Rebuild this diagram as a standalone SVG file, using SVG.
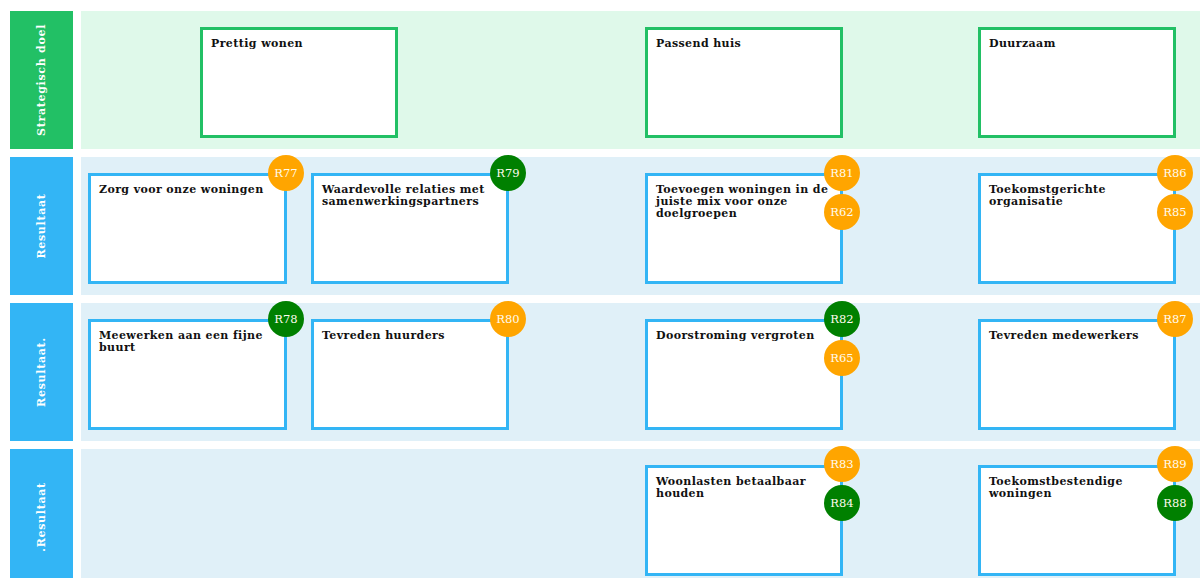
<svg xmlns="http://www.w3.org/2000/svg" width="1200" height="578" viewBox="0 0 1200 578">
<style>
.lbl-g{fill:#22c065}
.lbl-b{fill:#33b5f5}
.band-g{fill:#dff9ea}
.band-b{fill:#e0f0f8}
.lt{font-family:"DejaVu Serif",serif;font-weight:bold;font-size:11px;letter-spacing:0.7px;fill:#ffffff;text-anchor:middle;dominant-baseline:central}
.box-g{fill:#ffffff;stroke:#22c065;stroke-width:3}
.box-b{fill:#ffffff;stroke:#33b5f5;stroke-width:3}
.nt{font-family:"DejaVu Serif",serif;font-weight:bold;font-size:11px;letter-spacing:0.4px;fill:#111111}
.bo{fill:#ffa500}
.bg{fill:#008000}
.bt{font-family:"DejaVu Serif",serif;font-size:11.5px;fill:#fffbee;text-anchor:middle;dominant-baseline:central}
</style>
<rect width="1200" height="578" fill="#ffffff"/>
<g id="lanes">
<g id="lane1"><rect class="lbl-g" x="10" y="11" width="63" height="138"/><rect class="band-g" x="81" y="11" width="1119" height="138"/><text class="lt" transform="translate(41.5,80) rotate(-90)">Strategisch doel</text></g>
<g id="lane2"><rect class="lbl-b" x="10" y="157" width="63" height="138"/><rect class="band-b" x="81" y="157" width="1119" height="138"/><text class="lt" transform="translate(41.5,226) rotate(-90)">Resultaat</text></g>
<g id="lane3"><rect class="lbl-b" x="10" y="303" width="63" height="138"/><rect class="band-b" x="81" y="303" width="1119" height="138"/><text class="lt" transform="translate(41.5,372) rotate(-90)">Resultaat.</text></g>
<g id="lane4"><rect class="lbl-b" x="10" y="449" width="63" height="140"/><rect class="band-b" x="81" y="449" width="1119" height="140"/><text class="lt" transform="translate(41.5,517) rotate(-90)">.Resultaat</text></g>
</g>
<g id="connectors"></g>
<g id="n-prettig"><rect class="box-g" x="201.5" y="28.5" width="195" height="108"/><text class="nt" x="211" y="47">Prettig wonen</text></g>
<g id="n-passend"><rect class="box-g" x="646.5" y="28.5" width="195" height="108"/><text class="nt" x="656" y="47">Passend huis</text></g>
<g id="n-duurzaam"><rect class="box-g" x="979.5" y="28.5" width="195" height="108"/><text class="nt" x="989" y="47">Duurzaam</text></g>

<g id="n-zorg"><rect class="box-b" x="89.5" y="174.5" width="196" height="108"/><text class="nt" x="99" y="193">Zorg voor onze woningen</text><circle class="bo" cx="286" cy="173" r="18"/><text class="bt" x="286" y="173">R77</text></g>
<g id="n-waardevolle"><rect class="box-b" x="312.5" y="174.5" width="195" height="108"/><text class="nt" x="322" y="193">Waardevolle relaties met</text><text class="nt" x="322" y="205">samenwerkingspartners</text><circle class="bg" cx="508" cy="173" r="18"/><text class="bt" x="508" y="173">R79</text></g>
<g id="n-toevoegen"><rect class="box-b" x="646.5" y="174.5" width="195" height="108"/><text class="nt" x="656" y="193">Toevoegen woningen in de</text><text class="nt" x="656" y="205">juiste mix voor onze</text><text class="nt" x="656" y="217">doelgroepen</text><circle class="bo" cx="842" cy="173" r="18"/><text class="bt" x="842" y="173">R81</text><circle class="bo" cx="842" cy="212" r="18"/><text class="bt" x="842" y="212">R62</text></g>
<g id="n-toekomstgericht"><rect class="box-b" x="979.5" y="174.5" width="195" height="108"/><text class="nt" x="989" y="193">Toekomstgerichte</text><text class="nt" x="989" y="205">organisatie</text><circle class="bo" cx="1175" cy="173" r="18"/><text class="bt" x="1175" y="173">R86</text><circle class="bo" cx="1175" cy="212" r="18"/><text class="bt" x="1175" y="212">R85</text></g>

<g id="n-meewerken"><rect class="box-b" x="89.5" y="320.5" width="196" height="108"/><text class="nt" x="99" y="339">Meewerken aan een fijne</text><text class="nt" x="99" y="351">buurt</text><circle class="bg" cx="286" cy="319" r="18"/><text class="bt" x="286" y="319">R78</text></g>
<g id="n-huurders"><rect class="box-b" x="312.5" y="320.5" width="195" height="108"/><text class="nt" x="322" y="339">Tevreden huurders</text><circle class="bo" cx="508" cy="319" r="18"/><text class="bt" x="508" y="319">R80</text></g>
<g id="n-doorstroming"><rect class="box-b" x="646.5" y="320.5" width="195" height="108"/><text class="nt" x="656" y="339">Doorstroming vergroten</text><circle class="bg" cx="842" cy="319" r="18"/><text class="bt" x="842" y="319">R82</text><circle class="bo" cx="842" cy="358" r="18"/><text class="bt" x="842" y="358">R65</text></g>
<g id="n-medewerkers"><rect class="box-b" x="979.5" y="320.5" width="195" height="108"/><text class="nt" x="989" y="339">Tevreden medewerkers</text><circle class="bo" cx="1175" cy="319" r="18"/><text class="bt" x="1175" y="319">R87</text></g>

<g id="n-woonlasten"><rect class="box-b" x="646.5" y="466.5" width="195" height="108"/><text class="nt" x="656" y="485">Woonlasten betaalbaar</text><text class="nt" x="656" y="497">houden</text><circle class="bo" cx="842" cy="464" r="18"/><text class="bt" x="842" y="464">R83</text><circle class="bg" cx="842" cy="503" r="18"/><text class="bt" x="842" y="503">R84</text></g>
<g id="n-toekomstbestendig"><rect class="box-b" x="979.5" y="466.5" width="195" height="108"/><text class="nt" x="989" y="485">Toekomstbestendige</text><text class="nt" x="989" y="497">woningen</text><circle class="bo" cx="1175" cy="464" r="18"/><text class="bt" x="1175" y="464">R89</text><circle class="bg" cx="1175" cy="503" r="18"/><text class="bt" x="1175" y="503">R88</text></g>
</svg>
